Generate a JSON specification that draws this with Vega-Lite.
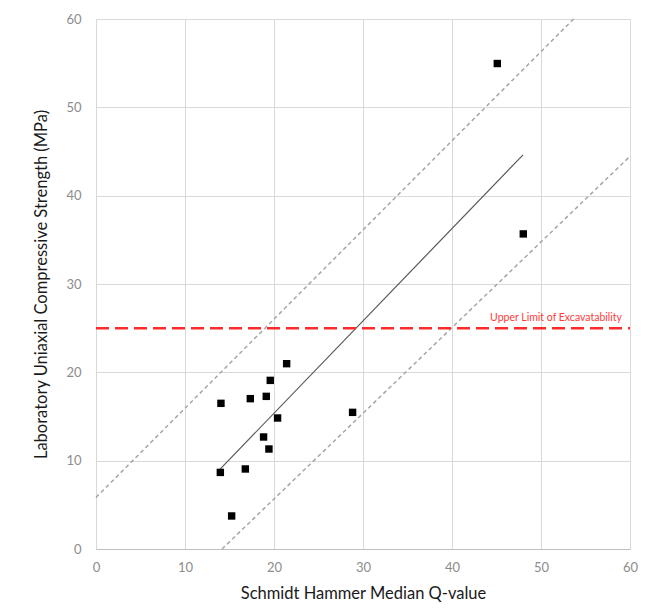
{
  "$schema": "https://vega.github.io/schema/vega-lite/v6.json",
  "width": 534,
  "height": 530,
  "autosize": {"type": "none"},
  "padding": {"left": 96, "top": 19, "right": 23, "bottom": 59},
  "background": "white",
  "config": {
    "view": {"stroke": null},
    "font": "Lato",
    "axis": {
      "gridColor": "#d9d9d9",
      "gridWidth": 1,
      "ticks": false,
      "labelColor": "#8c8c8c",
      "labelFontSize": 13,
      "labelFont": "Lato",
      "labelFlush": false,
      "titleFont": "Lato",
      "titleFontSize": 16.5,
      "titleFontWeight": "normal",
      "titleColor": "#1a1a1a"
    }
  },
  "datasets": {
    "pts": [
      {"q": 13.97, "ucs": 8.67},
      {"q": 16.78, "ucs": 9.06},
      {"q": 15.24, "ucs": 3.74},
      {"q": 14.04, "ucs": 16.49},
      {"q": 17.34, "ucs": 17.02},
      {"q": 19.13, "ucs": 17.28},
      {"q": 19.58, "ucs": 19.09},
      {"q": 18.83, "ucs": 12.68},
      {"q": 19.43, "ucs": 11.32},
      {"q": 20.4, "ucs": 14.83},
      {"q": 21.42, "ucs": 20.98},
      {"q": 28.83, "ucs": 15.47},
      {"q": 45.09, "ucs": 54.96},
      {"q": 48.01, "ucs": 35.67}
    ],
    "lines": [
      {"series": "fit", "q": 13.89, "ucs": 8.98},
      {"series": "fit", "q": 47.98, "ucs": 44.62},
      {"series": "upper", "q": 0, "ucs": 5.84},
      {"series": "upper", "q": 53.66, "ucs": 60},
      {"series": "lower", "q": 14.16, "ucs": 0},
      {"series": "lower", "q": 60, "ucs": 44.46}
    ],
    "limit": [
      {"q": 0, "ucs": 25, "label": ""},
      {"q": 60, "ucs": 25, "label": "Upper Limit of Excavatability"}
    ]
  },
  "encoding": {
    "x": {
      "field": "q",
      "type": "quantitative",
      "scale": {"domain": [0, 60], "nice": false},
      "axis": {
        "values": [0, 10, 20, 30, 40, 50, 60],
        "title": "Schmidt Hammer Median Q-value",
        "domainColor": "#bfbfbf",
        "labelPadding": 12,
        "titlePadding": 11
      }
    },
    "y": {
      "field": "ucs",
      "type": "quantitative",
      "scale": {"domain": [0, 60], "nice": false},
      "axis": {
        "values": [0, 10, 20, 30, 40, 50, 60],
        "title": "Laboratory Uniaxial Compressive Strength (MPa)",
        "domain": false,
        "labelPadding": 15,
        "titlePadding": 16
      }
    }
  },
  "layer": [
    {
      "data": {"name": "lines"},
      "transform": [{"filter": "datum.series !== 'fit'"}],
      "mark": {"type": "line", "color": "#a6a6a6", "strokeWidth": 1.5, "strokeDash": [4, 3]},
      "encoding": {"detail": {"field": "series"}}
    },
    {
      "data": {"name": "lines"},
      "transform": [{"filter": "datum.series === 'fit'"}],
      "mark": {"type": "line", "color": "#595959", "strokeWidth": 1.2},
      "encoding": {}
    },
    {
      "data": {"name": "limit"},
      "mark": {"type": "line", "color": "#ff2a2a", "strokeWidth": 2.5, "strokeDash": [13, 6]},
      "encoding": {}
    },
    {
      "data": {"name": "limit"},
      "mark": {"type": "text", "color": "#ff3b3b", "fontSize": 10.5, "align": "right", "baseline": "bottom", "dx": -8, "dy": -5, "font": "Lato"},
      "encoding": {"text": {"field": "label"}}
    },
    {
      "data": {"name": "pts"},
      "mark": {"type": "point", "shape": "square", "filled": true, "color": "#000000", "size": 55, "opacity": 1},
      "encoding": {}
    }
  ]
}
